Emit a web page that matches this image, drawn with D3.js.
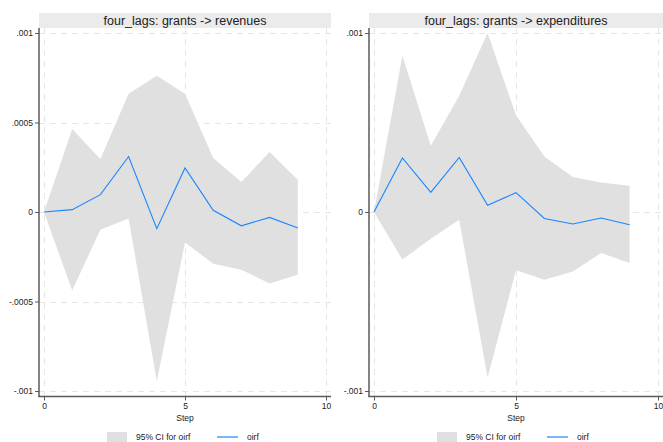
<!DOCTYPE html>
<html>
<head>
<meta charset="utf-8">
<script src="https://cdn.jsdelivr.net/npm/d3@7"></script>
<style>
  body { margin: 0; background: #fff; }
  svg { display: block; font-family: "Liberation Sans", Arial, sans-serif; }
</style>
</head>
<body>
<svg id="chart" width="663" height="442"></svg>
<script>
// data
const steps = [0, 1, 2, 3, 4, 5, 6, 7, 8, 9];

const revOirf  = [0, 0.000013, 0.000097, 0.00031, -0.000093, 0.000246, 0.00001, -0.000077, -0.00003, -0.000089];
const revLower = [0, -0.000438, -0.000099, -0.000036, -0.000946, -0.00017, -0.000289, -0.000322, -0.0004, -0.00035];
const revUpper = [0, 0.000464, 0.000296, 0.00066, 0.000761, 0.00066, 0.000302, 0.000168, 0.000335, 0.00018];

const expOirf  = [0, 0.000302, 0.00011, 0.000305, 0.000037, 0.000108, -0.000036, -0.000067, -0.000034, -0.000071];
const expLower = [0, -0.000266, -0.00015, -0.000043, -0.000924, -0.000326, -0.000378, -0.000332, -0.000229, -0.000285];
const expUpper = [0, 0.000873, 0.00037, 0.00065, 0.001, 0.00054, 0.00031, 0.000196, 0.000165, 0.000147];

const xTicks = [0, 5, 10];
const revYTicks = [-0.001, -0.0005, 0, 0.0005, 0.001];
const revYTickLabels = ['-.001', '-.0005', '0', '.0005', '.001'];
const expYTicks = [-0.001, 0, 0.001];
const expYTickLabels = ['-.001', '0', '.001'];
const panelTitles = ['four_lags: grants -> revenues', 'four_lags: grants -> expenditures'];
const legendLabels = ['95% CI for oirf', 'oirf'];

const ciColor = '#e0e0e0';
const lineColor = '#1a85ff';
const gridColor = '#e6e6e6';
const axisColor = '#5a5a5a';

const svg = d3.select('#chart');

const panels = [
  { title: panelTitles[0], oirf: revOirf, lower: revLower, upper: revUpper,
    yTicks: revYTicks, yLabels: revYTickLabels, axisX: 39, right: 331, x0: 44, x10: 326 },
  { title: panelTitles[1], oirf: expOirf, lower: expLower, upper: expUpper,
    yTicks: expYTicks, yLabels: expYTickLabels, axisX: 369, right: 663, x0: 374, x10: 658 }
];

const plotTop = 28, plotBottom = 396.5;

panels.forEach(p => {
  const g = svg.append('g');

  const x = d3.scaleLinear().domain([0, 10]).range([p.x0, p.x10]);
  const y = d3.scaleLinear().domain([-0.001, 0.001]).range([391, 33]);

  // title strip
  g.append('rect')
    .attr('x', p.axisX).attr('y', 13)
    .attr('width', p.right - p.axisX).attr('height', 15)
    .attr('fill', '#ebebeb');
  g.append('text')
    .attr('x', (p.axisX + p.right) / 2).attr('y', 25)
    .attr('text-anchor', 'middle')
    .style('font-size', '12.5px')
    .style('fill', '#222')
    .text(p.title);

  // grid
  g.selectAll('.hgrid')
    .data(p.yTicks)
    .enter()
    .append('line')
      .attr('x1', p.axisX).attr('x2', p.right)
      .attr('y1', d => Math.round(y(d)) + 0.5).attr('y2', d => Math.round(y(d)) + 0.5)
      .attr('stroke', gridColor)
      .attr('stroke-dasharray', '6,5');
  g.selectAll('.vgrid')
    .data(xTicks)
    .enter()
    .append('line')
      .attr('x1', d => Math.round(x(d)) + 0.5).attr('x2', d => Math.round(x(d)) + 0.5)
      .attr('y1', plotTop).attr('y2', plotBottom)
      .attr('stroke', gridColor)
      .attr('stroke-dasharray', '6,5');

  // CI band
  const area = d3.area()
    .x((d, i) => x(steps[i]))
    .y0((d, i) => y(p.lower[i]))
    .y1((d, i) => y(p.upper[i]));
  g.append('path')
    .attr('d', area(steps))
    .attr('fill', ciColor);

  // oirf line
  const line = d3.line()
    .x((d, i) => x(steps[i]))
    .y((d, i) => y(p.oirf[i]));
  g.append('path')
    .attr('d', line(steps))
    .attr('fill', 'none')
    .attr('stroke', lineColor)
    .attr('stroke-width', 1.1);

  // axes
  const yAxis = g.append('g')
    .attr('transform', `translate(${p.axisX},0)`)
    .call(d3.axisLeft(y).tickValues(p.yTicks).tickSize(4).tickPadding(2)
      .tickFormat((d, i) => p.yLabels[i]));
  yAxis.select('.domain').remove();
  g.append('line')
    .attr('x1', p.axisX).attr('x2', p.axisX)
    .attr('y1', plotTop).attr('y2', plotBottom)
    .attr('stroke', axisColor).attr('stroke-width', 1.5);

  const xAxis = g.append('g')
    .attr('transform', `translate(0,${plotBottom})`)
    .call(d3.axisBottom(x).tickValues(xTicks).tickSize(4).tickPadding(2)
      .tickFormat(d3.format('d')));
  xAxis.select('.domain').remove();
  g.append('line')
    .attr('x1', p.axisX - 0.75).attr('x2', p.right)
    .attr('y1', plotBottom).attr('y2', plotBottom)
    .attr('stroke', axisColor).attr('stroke-width', 1.5);

  [yAxis, xAxis].forEach(a => {
    a.selectAll('text').style('font-size', '8.5px').style('fill', '#222').style('font-family', '"Liberation Sans", Arial, sans-serif');
    a.selectAll('line').attr('stroke', axisColor);
  });

  g.append('text')
    .attr('x', x(5)).attr('y', 421)
    .attr('text-anchor', 'middle')
    .style('font-size', '8.5px')
    .style('fill', '#222')
    .text('Step');

  // legend
  const lx = p.axisX + 68;
  g.append('rect')
    .attr('x', lx).attr('y', 432)
    .attr('width', 20).attr('height', 10)
    .attr('fill', ciColor);
  g.append('text')
    .attr('x', lx + 29).attr('y', 440)
    .style('font-size', '8.5px')
    .style('fill', '#222')
    .text(legendLabels[0]);
  g.append('line')
    .attr('x1', lx + 110).attr('x2', lx + 131)
    .attr('y1', 437).attr('y2', 437)
    .attr('stroke', lineColor).attr('stroke-opacity', 0.6)
    .attr('stroke-width', 2);
  g.append('text')
    .attr('x', lx + 140).attr('y', 440)
    .style('font-size', '8.5px')
    .style('fill', '#222')
    .text(legendLabels[1]);
});
</script>
</body>
</html>
